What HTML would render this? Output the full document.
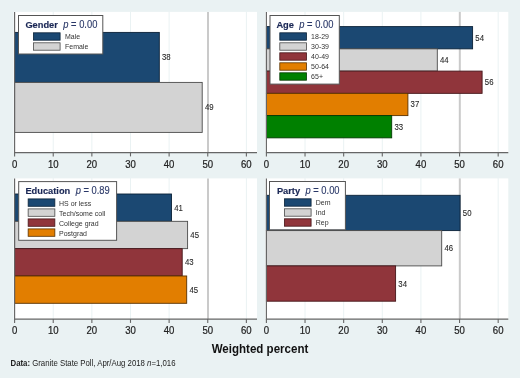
<!DOCTYPE html><html><head><meta charset="utf-8"><style>
html,body{margin:0;padding:0;background:#EAF2F3;}svg{display:block;will-change:transform;}text{font-family:"Liberation Sans",sans-serif;}
</style></head><body>
<svg width="520" height="378" viewBox="0 0 520 378">
<rect x="0" y="0" width="520" height="378" fill="#EAF2F3"/>
<rect x="13.60" y="11.90" width="243.40" height="140.70" fill="#fff"/>
<line x1="53.23" y1="11.50" x2="53.23" y2="152.60" stroke="#EAF2F3" stroke-width="1"/>
<line x1="91.86" y1="11.50" x2="91.86" y2="152.60" stroke="#EAF2F3" stroke-width="1"/>
<line x1="130.49" y1="11.50" x2="130.49" y2="152.60" stroke="#EAF2F3" stroke-width="1"/>
<line x1="169.12" y1="11.50" x2="169.12" y2="152.60" stroke="#EAF2F3" stroke-width="1"/>
<line x1="246.38" y1="11.50" x2="246.38" y2="152.60" stroke="#EAF2F3" stroke-width="1"/>
<line x1="208.00" y1="11.90" x2="208.00" y2="152.60" stroke="#CACACA" stroke-width="2"/>
<rect x="14.60" y="32.40" width="144.70" height="50.00" fill="#1B4872" stroke="#0B2238" stroke-width="0.9"/>
<text transform="translate(162.00,60.40) scale(1,1.150)" font-size="7.8" fill="#2a2a2a" stroke="#2a2a2a" stroke-width="0.1">38</text>
<rect x="14.60" y="82.40" width="187.60" height="50.00" fill="#D3D3D3" stroke="#4A4A4A" stroke-width="0.9"/>
<text transform="translate(204.90,110.40) scale(1,1.150)" font-size="7.8" fill="#2a2a2a" stroke="#2a2a2a" stroke-width="0.1">49</text>
<line x1="14.60" y1="12.00" x2="14.60" y2="153.10" stroke="#666666" stroke-width="1.15"/>
<line x1="14.60" y1="152.60" x2="257.00" y2="152.60" stroke="#666666" stroke-width="1.15"/>
<line x1="14.60" y1="152.60" x2="14.60" y2="156.40" stroke="#666666" stroke-width="1.1"/>
<text transform="translate(14.60,167.80) scale(1,1.150)" font-size="9.6" fill="#222" stroke="#222" stroke-width="0.2" text-anchor="middle">0</text>
<line x1="53.23" y1="152.60" x2="53.23" y2="156.40" stroke="#666666" stroke-width="1.1"/>
<text transform="translate(53.23,167.80) scale(1,1.150)" font-size="9.6" fill="#222" stroke="#222" stroke-width="0.2" text-anchor="middle">10</text>
<line x1="91.86" y1="152.60" x2="91.86" y2="156.40" stroke="#666666" stroke-width="1.1"/>
<text transform="translate(91.86,167.80) scale(1,1.150)" font-size="9.6" fill="#222" stroke="#222" stroke-width="0.2" text-anchor="middle">20</text>
<line x1="130.49" y1="152.60" x2="130.49" y2="156.40" stroke="#666666" stroke-width="1.1"/>
<text transform="translate(130.49,167.80) scale(1,1.150)" font-size="9.6" fill="#222" stroke="#222" stroke-width="0.2" text-anchor="middle">30</text>
<line x1="169.12" y1="152.60" x2="169.12" y2="156.40" stroke="#666666" stroke-width="1.1"/>
<text transform="translate(169.12,167.80) scale(1,1.150)" font-size="9.6" fill="#222" stroke="#222" stroke-width="0.2" text-anchor="middle">40</text>
<line x1="207.75" y1="152.60" x2="207.75" y2="156.40" stroke="#666666" stroke-width="1.1"/>
<text transform="translate(207.75,167.80) scale(1,1.150)" font-size="9.6" fill="#222" stroke="#222" stroke-width="0.2" text-anchor="middle">50</text>
<line x1="246.38" y1="152.60" x2="246.38" y2="156.40" stroke="#666666" stroke-width="1.1"/>
<text transform="translate(246.38,167.80) scale(1,1.150)" font-size="9.6" fill="#222" stroke="#222" stroke-width="0.2" text-anchor="middle">60</text>
<rect x="18.50" y="15.50" width="84.30" height="38.50" fill="#fff" stroke="#555" stroke-width="1"/>
<text transform="translate(25.40,28.20) scale(1,1.040)" font-size="9.3" font-weight="bold" fill="#1A2755" stroke="#1A2755" stroke-width="0.15">Gender</text>
<text transform="translate(63.30,28.00) scale(1,1.070)" font-size="9.35" fill="#2A3868" stroke="#2A3868" stroke-width="0.12"><tspan font-style="italic">p</tspan> = 0.00</text>
<rect x="33.40" y="32.80" width="26.7" height="7.4" fill="#1B4872" stroke="#0B2238" stroke-width="0.8"/>
<text transform="translate(65.00,39.40) scale(1,1.120)" font-size="7" fill="#333">Male</text>
<rect x="33.40" y="42.80" width="26.7" height="7.4" fill="#D3D3D3" stroke="#4A4A4A" stroke-width="0.8"/>
<text transform="translate(65.00,49.40) scale(1,1.120)" font-size="7" fill="#333">Female</text>
<rect x="265.40" y="11.90" width="242.90" height="140.70" fill="#fff"/>
<line x1="305.03" y1="11.50" x2="305.03" y2="152.60" stroke="#EAF2F3" stroke-width="1"/>
<line x1="343.66" y1="11.50" x2="343.66" y2="152.60" stroke="#EAF2F3" stroke-width="1"/>
<line x1="382.29" y1="11.50" x2="382.29" y2="152.60" stroke="#EAF2F3" stroke-width="1"/>
<line x1="420.92" y1="11.50" x2="420.92" y2="152.60" stroke="#EAF2F3" stroke-width="1"/>
<line x1="498.18" y1="11.50" x2="498.18" y2="152.60" stroke="#EAF2F3" stroke-width="1"/>
<line x1="459.80" y1="11.90" x2="459.80" y2="152.60" stroke="#CACACA" stroke-width="2"/>
<rect x="266.40" y="26.60" width="206.20" height="22.25" fill="#1B4872" stroke="#0B2238" stroke-width="0.9"/>
<text transform="translate(475.30,40.73) scale(1,1.150)" font-size="7.8" fill="#2a2a2a" stroke="#2a2a2a" stroke-width="0.1">54</text>
<rect x="266.40" y="48.85" width="170.90" height="22.25" fill="#D3D3D3" stroke="#4A4A4A" stroke-width="0.9"/>
<text transform="translate(440.00,62.97) scale(1,1.150)" font-size="7.8" fill="#2a2a2a" stroke="#2a2a2a" stroke-width="0.1">44</text>
<rect x="266.40" y="71.10" width="215.70" height="22.25" fill="#90353B" stroke="#45161A" stroke-width="0.9"/>
<text transform="translate(484.80,85.22) scale(1,1.150)" font-size="7.8" fill="#2a2a2a" stroke="#2a2a2a" stroke-width="0.1">56</text>
<rect x="266.40" y="93.35" width="141.50" height="22.25" fill="#E27E00" stroke="#5A3200" stroke-width="0.9"/>
<text transform="translate(410.60,107.47) scale(1,1.150)" font-size="7.8" fill="#2a2a2a" stroke="#2a2a2a" stroke-width="0.1">37</text>
<rect x="266.40" y="115.60" width="125.30" height="22.25" fill="#008000" stroke="#023A02" stroke-width="0.9"/>
<text transform="translate(394.40,129.72) scale(1,1.150)" font-size="7.8" fill="#2a2a2a" stroke="#2a2a2a" stroke-width="0.1">33</text>
<line x1="266.40" y1="12.00" x2="266.40" y2="153.10" stroke="#666666" stroke-width="1.15"/>
<line x1="266.40" y1="152.60" x2="508.30" y2="152.60" stroke="#666666" stroke-width="1.15"/>
<line x1="266.40" y1="152.60" x2="266.40" y2="156.40" stroke="#666666" stroke-width="1.1"/>
<text transform="translate(266.40,167.80) scale(1,1.150)" font-size="9.6" fill="#222" stroke="#222" stroke-width="0.2" text-anchor="middle">0</text>
<line x1="305.03" y1="152.60" x2="305.03" y2="156.40" stroke="#666666" stroke-width="1.1"/>
<text transform="translate(305.03,167.80) scale(1,1.150)" font-size="9.6" fill="#222" stroke="#222" stroke-width="0.2" text-anchor="middle">10</text>
<line x1="343.66" y1="152.60" x2="343.66" y2="156.40" stroke="#666666" stroke-width="1.1"/>
<text transform="translate(343.66,167.80) scale(1,1.150)" font-size="9.6" fill="#222" stroke="#222" stroke-width="0.2" text-anchor="middle">20</text>
<line x1="382.29" y1="152.60" x2="382.29" y2="156.40" stroke="#666666" stroke-width="1.1"/>
<text transform="translate(382.29,167.80) scale(1,1.150)" font-size="9.6" fill="#222" stroke="#222" stroke-width="0.2" text-anchor="middle">30</text>
<line x1="420.92" y1="152.60" x2="420.92" y2="156.40" stroke="#666666" stroke-width="1.1"/>
<text transform="translate(420.92,167.80) scale(1,1.150)" font-size="9.6" fill="#222" stroke="#222" stroke-width="0.2" text-anchor="middle">40</text>
<line x1="459.55" y1="152.60" x2="459.55" y2="156.40" stroke="#666666" stroke-width="1.1"/>
<text transform="translate(459.55,167.80) scale(1,1.150)" font-size="9.6" fill="#222" stroke="#222" stroke-width="0.2" text-anchor="middle">50</text>
<line x1="498.18" y1="152.60" x2="498.18" y2="156.40" stroke="#666666" stroke-width="1.1"/>
<text transform="translate(498.18,167.80) scale(1,1.150)" font-size="9.6" fill="#222" stroke="#222" stroke-width="0.2" text-anchor="middle">60</text>
<rect x="270.00" y="15.50" width="69.30" height="68.60" fill="#fff" stroke="#555" stroke-width="1"/>
<text transform="translate(276.40,28.20) scale(1,1.040)" font-size="9.3" font-weight="bold" fill="#1A2755" stroke="#1A2755" stroke-width="0.15">Age</text>
<text transform="translate(299.30,28.00) scale(1,1.070)" font-size="9.35" fill="#2A3868" stroke="#2A3868" stroke-width="0.12"><tspan font-style="italic">p</tspan> = 0.00</text>
<rect x="279.80" y="32.80" width="26.7" height="7.4" fill="#1B4872" stroke="#0B2238" stroke-width="0.8"/>
<text transform="translate(311.10,39.40) scale(1,1.120)" font-size="7" fill="#333">18-29</text>
<rect x="279.80" y="42.80" width="26.7" height="7.4" fill="#D3D3D3" stroke="#4A4A4A" stroke-width="0.8"/>
<text transform="translate(311.10,49.40) scale(1,1.120)" font-size="7" fill="#333">30-39</text>
<rect x="279.80" y="52.80" width="26.7" height="7.4" fill="#90353B" stroke="#45161A" stroke-width="0.8"/>
<text transform="translate(311.10,59.40) scale(1,1.120)" font-size="7" fill="#333">40-49</text>
<rect x="279.80" y="62.80" width="26.7" height="7.4" fill="#E27E00" stroke="#5A3200" stroke-width="0.8"/>
<text transform="translate(311.10,69.40) scale(1,1.120)" font-size="7" fill="#333">50-64</text>
<rect x="279.80" y="72.80" width="26.7" height="7.4" fill="#008000" stroke="#023A02" stroke-width="0.8"/>
<text transform="translate(311.10,79.40) scale(1,1.120)" font-size="7" fill="#333">65+</text>
<rect x="13.60" y="178.40" width="243.40" height="140.70" fill="#fff"/>
<line x1="53.23" y1="178.00" x2="53.23" y2="319.10" stroke="#EAF2F3" stroke-width="1"/>
<line x1="91.86" y1="178.00" x2="91.86" y2="319.10" stroke="#EAF2F3" stroke-width="1"/>
<line x1="130.49" y1="178.00" x2="130.49" y2="319.10" stroke="#EAF2F3" stroke-width="1"/>
<line x1="169.12" y1="178.00" x2="169.12" y2="319.10" stroke="#EAF2F3" stroke-width="1"/>
<line x1="246.38" y1="178.00" x2="246.38" y2="319.10" stroke="#EAF2F3" stroke-width="1"/>
<line x1="208.00" y1="178.40" x2="208.00" y2="319.10" stroke="#CACACA" stroke-width="2"/>
<rect x="14.60" y="194.00" width="156.90" height="27.32" fill="#1B4872" stroke="#0B2238" stroke-width="0.9"/>
<text transform="translate(174.20,210.66) scale(1,1.150)" font-size="7.8" fill="#2a2a2a" stroke="#2a2a2a" stroke-width="0.1">41</text>
<rect x="14.60" y="221.32" width="173.00" height="27.33" fill="#D3D3D3" stroke="#4A4A4A" stroke-width="0.9"/>
<text transform="translate(190.30,237.99) scale(1,1.150)" font-size="7.8" fill="#2a2a2a" stroke="#2a2a2a" stroke-width="0.1">45</text>
<rect x="14.60" y="248.65" width="167.60" height="27.33" fill="#90353B" stroke="#45161A" stroke-width="0.9"/>
<text transform="translate(184.90,265.31) scale(1,1.150)" font-size="7.8" fill="#2a2a2a" stroke="#2a2a2a" stroke-width="0.1">43</text>
<rect x="14.60" y="275.98" width="172.10" height="27.32" fill="#E27E00" stroke="#5A3200" stroke-width="0.9"/>
<text transform="translate(189.40,292.64) scale(1,1.150)" font-size="7.8" fill="#2a2a2a" stroke="#2a2a2a" stroke-width="0.1">45</text>
<line x1="14.60" y1="178.50" x2="14.60" y2="319.60" stroke="#666666" stroke-width="1.15"/>
<line x1="14.60" y1="319.10" x2="257.00" y2="319.10" stroke="#666666" stroke-width="1.15"/>
<line x1="14.60" y1="319.10" x2="14.60" y2="322.90" stroke="#666666" stroke-width="1.1"/>
<text transform="translate(14.60,334.30) scale(1,1.150)" font-size="9.6" fill="#222" stroke="#222" stroke-width="0.2" text-anchor="middle">0</text>
<line x1="53.23" y1="319.10" x2="53.23" y2="322.90" stroke="#666666" stroke-width="1.1"/>
<text transform="translate(53.23,334.30) scale(1,1.150)" font-size="9.6" fill="#222" stroke="#222" stroke-width="0.2" text-anchor="middle">10</text>
<line x1="91.86" y1="319.10" x2="91.86" y2="322.90" stroke="#666666" stroke-width="1.1"/>
<text transform="translate(91.86,334.30) scale(1,1.150)" font-size="9.6" fill="#222" stroke="#222" stroke-width="0.2" text-anchor="middle">20</text>
<line x1="130.49" y1="319.10" x2="130.49" y2="322.90" stroke="#666666" stroke-width="1.1"/>
<text transform="translate(130.49,334.30) scale(1,1.150)" font-size="9.6" fill="#222" stroke="#222" stroke-width="0.2" text-anchor="middle">30</text>
<line x1="169.12" y1="319.10" x2="169.12" y2="322.90" stroke="#666666" stroke-width="1.1"/>
<text transform="translate(169.12,334.30) scale(1,1.150)" font-size="9.6" fill="#222" stroke="#222" stroke-width="0.2" text-anchor="middle">40</text>
<line x1="207.75" y1="319.10" x2="207.75" y2="322.90" stroke="#666666" stroke-width="1.1"/>
<text transform="translate(207.75,334.30) scale(1,1.150)" font-size="9.6" fill="#222" stroke="#222" stroke-width="0.2" text-anchor="middle">50</text>
<line x1="246.38" y1="319.10" x2="246.38" y2="322.90" stroke="#666666" stroke-width="1.1"/>
<text transform="translate(246.38,334.30) scale(1,1.150)" font-size="9.6" fill="#222" stroke="#222" stroke-width="0.2" text-anchor="middle">60</text>
<rect x="18.70" y="181.60" width="97.90" height="58.70" fill="#fff" stroke="#555" stroke-width="1"/>
<text transform="translate(25.40,194.30) scale(1,1.040)" font-size="9.3" font-weight="bold" fill="#1A2755" stroke="#1A2755" stroke-width="0.15">Education</text>
<text transform="translate(75.70,194.10) scale(1,1.070)" font-size="9.35" fill="#2A3868" stroke="#2A3868" stroke-width="0.12"><tspan font-style="italic">p</tspan> = 0.89</text>
<rect x="28.15" y="198.90" width="26.7" height="7.4" fill="#1B4872" stroke="#0B2238" stroke-width="0.8"/>
<text transform="translate(59.00,205.50) scale(1,1.120)" font-size="7" fill="#333">HS or less</text>
<rect x="28.15" y="208.90" width="26.7" height="7.4" fill="#D3D3D3" stroke="#4A4A4A" stroke-width="0.8"/>
<text transform="translate(59.00,215.50) scale(1,1.120)" font-size="7" fill="#333">Tech/some coll</text>
<rect x="28.15" y="218.90" width="26.7" height="7.4" fill="#90353B" stroke="#45161A" stroke-width="0.8"/>
<text transform="translate(59.00,225.50) scale(1,1.120)" font-size="7" fill="#333">College grad</text>
<rect x="28.15" y="228.90" width="26.7" height="7.4" fill="#E27E00" stroke="#5A3200" stroke-width="0.8"/>
<text transform="translate(59.00,235.50) scale(1,1.120)" font-size="7" fill="#333">Postgrad</text>
<rect x="265.40" y="178.40" width="242.90" height="140.70" fill="#fff"/>
<line x1="305.03" y1="178.00" x2="305.03" y2="319.10" stroke="#EAF2F3" stroke-width="1"/>
<line x1="343.66" y1="178.00" x2="343.66" y2="319.10" stroke="#EAF2F3" stroke-width="1"/>
<line x1="382.29" y1="178.00" x2="382.29" y2="319.10" stroke="#EAF2F3" stroke-width="1"/>
<line x1="420.92" y1="178.00" x2="420.92" y2="319.10" stroke="#EAF2F3" stroke-width="1"/>
<line x1="498.18" y1="178.00" x2="498.18" y2="319.10" stroke="#EAF2F3" stroke-width="1"/>
<line x1="459.80" y1="178.40" x2="459.80" y2="319.10" stroke="#CACACA" stroke-width="2"/>
<rect x="266.40" y="195.30" width="193.70" height="35.30" fill="#1B4872" stroke="#0B2238" stroke-width="0.9"/>
<text transform="translate(462.80,215.95) scale(1,1.150)" font-size="7.8" fill="#2a2a2a" stroke="#2a2a2a" stroke-width="0.1">50</text>
<rect x="266.40" y="230.60" width="175.30" height="35.30" fill="#D3D3D3" stroke="#4A4A4A" stroke-width="0.9"/>
<text transform="translate(444.40,251.25) scale(1,1.150)" font-size="7.8" fill="#2a2a2a" stroke="#2a2a2a" stroke-width="0.1">46</text>
<rect x="266.40" y="265.90" width="129.20" height="35.30" fill="#90353B" stroke="#45161A" stroke-width="0.9"/>
<text transform="translate(398.30,286.55) scale(1,1.150)" font-size="7.8" fill="#2a2a2a" stroke="#2a2a2a" stroke-width="0.1">34</text>
<line x1="266.40" y1="178.50" x2="266.40" y2="319.60" stroke="#666666" stroke-width="1.15"/>
<line x1="266.40" y1="319.10" x2="508.30" y2="319.10" stroke="#666666" stroke-width="1.15"/>
<line x1="266.40" y1="319.10" x2="266.40" y2="322.90" stroke="#666666" stroke-width="1.1"/>
<text transform="translate(266.40,334.30) scale(1,1.150)" font-size="9.6" fill="#222" stroke="#222" stroke-width="0.2" text-anchor="middle">0</text>
<line x1="305.03" y1="319.10" x2="305.03" y2="322.90" stroke="#666666" stroke-width="1.1"/>
<text transform="translate(305.03,334.30) scale(1,1.150)" font-size="9.6" fill="#222" stroke="#222" stroke-width="0.2" text-anchor="middle">10</text>
<line x1="343.66" y1="319.10" x2="343.66" y2="322.90" stroke="#666666" stroke-width="1.1"/>
<text transform="translate(343.66,334.30) scale(1,1.150)" font-size="9.6" fill="#222" stroke="#222" stroke-width="0.2" text-anchor="middle">20</text>
<line x1="382.29" y1="319.10" x2="382.29" y2="322.90" stroke="#666666" stroke-width="1.1"/>
<text transform="translate(382.29,334.30) scale(1,1.150)" font-size="9.6" fill="#222" stroke="#222" stroke-width="0.2" text-anchor="middle">30</text>
<line x1="420.92" y1="319.10" x2="420.92" y2="322.90" stroke="#666666" stroke-width="1.1"/>
<text transform="translate(420.92,334.30) scale(1,1.150)" font-size="9.6" fill="#222" stroke="#222" stroke-width="0.2" text-anchor="middle">40</text>
<line x1="459.55" y1="319.10" x2="459.55" y2="322.90" stroke="#666666" stroke-width="1.1"/>
<text transform="translate(459.55,334.30) scale(1,1.150)" font-size="9.6" fill="#222" stroke="#222" stroke-width="0.2" text-anchor="middle">50</text>
<line x1="498.18" y1="319.10" x2="498.18" y2="322.90" stroke="#666666" stroke-width="1.1"/>
<text transform="translate(498.18,334.30) scale(1,1.150)" font-size="9.6" fill="#222" stroke="#222" stroke-width="0.2" text-anchor="middle">60</text>
<rect x="269.50" y="181.50" width="75.90" height="48.30" fill="#fff" stroke="#555" stroke-width="1"/>
<text transform="translate(276.90,194.20) scale(1,1.040)" font-size="9.3" font-weight="bold" fill="#1A2755" stroke="#1A2755" stroke-width="0.15">Party</text>
<text transform="translate(305.50,194.00) scale(1,1.070)" font-size="9.35" fill="#2A3868" stroke="#2A3868" stroke-width="0.12"><tspan font-style="italic">p</tspan> = 0.00</text>
<rect x="284.40" y="198.80" width="26.7" height="7.4" fill="#1B4872" stroke="#0B2238" stroke-width="0.8"/>
<text transform="translate(315.70,205.40) scale(1,1.120)" font-size="7" fill="#333">Dem</text>
<rect x="284.40" y="208.80" width="26.7" height="7.4" fill="#D3D3D3" stroke="#4A4A4A" stroke-width="0.8"/>
<text transform="translate(315.70,215.40) scale(1,1.120)" font-size="7" fill="#333">Ind</text>
<rect x="284.40" y="218.80" width="26.7" height="7.4" fill="#90353B" stroke="#45161A" stroke-width="0.8"/>
<text transform="translate(315.70,225.40) scale(1,1.120)" font-size="7" fill="#333">Rep</text>
<text transform="translate(260.00,352.90) scale(1,1.080)" font-size="11.55" font-weight="bold" fill="#111" text-anchor="middle">Weighted percent</text>
<text transform="translate(10.50,365.70) scale(1,1.150)" font-size="7.82" fill="#222"><tspan font-weight="bold">Data:</tspan> Granite State Poll, Apr/Aug 2018 <tspan font-style="italic">n</tspan>=1,016</text>
</svg></body></html>
